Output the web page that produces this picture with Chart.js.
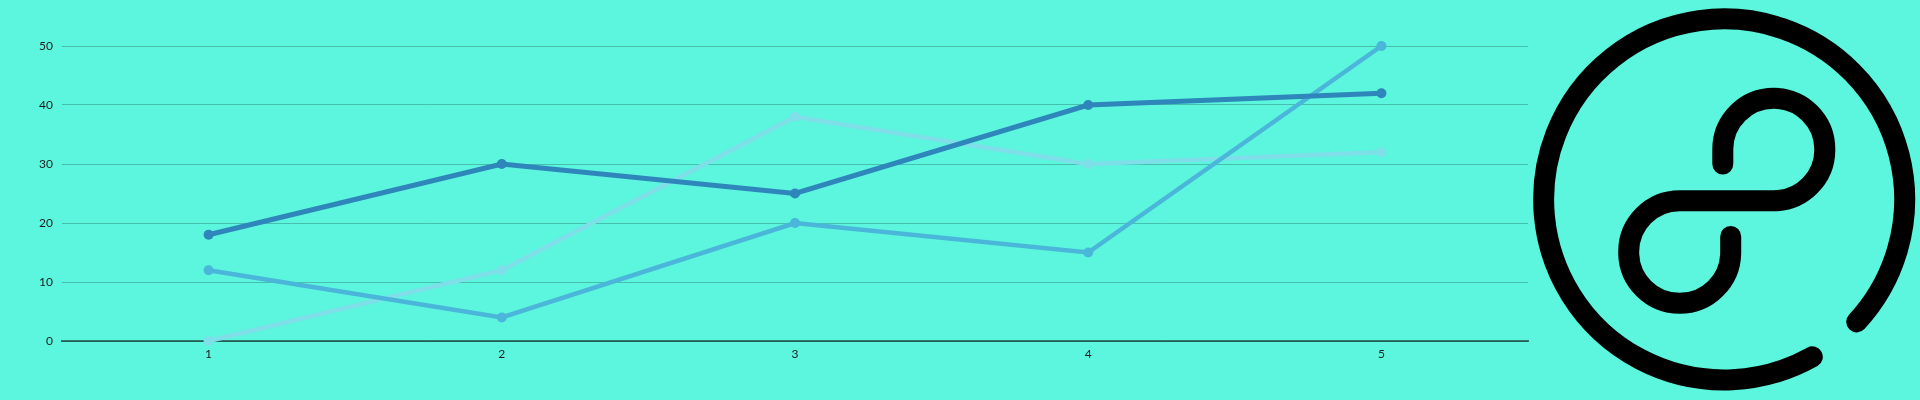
<!DOCTYPE html>
<html>
<head>
<meta charset="utf-8">
<script src="https://cdn.jsdelivr.net/npm/chart.js@4/dist/chart.umd.min.js"></script>
<style>
  html, body { margin: 0; padding: 0; background: #5cf5de; }
  #wrap { position: relative; width: 1920px; height: 400px; overflow: hidden; }
  /* chart.js keeps ~5px on the right, so the box runs a bit wider than the plot */
  #chartBox { position: absolute; left: 0; top: 0; width: 1533px; height: 400px; }
  #logo { position: absolute; left: 0; top: 0; }
</style>
</head>
<body>
<div id="wrap">
  <div id="chartBox"><canvas id="myChart"></canvas></div>
  <svg id="logo" width="1920" height="400" viewBox="0 0 1920 400">
    <g fill="none" stroke="#000" stroke-width="21" stroke-linecap="round">
      <path d="M1812.3 356.9 A180.5 180.5 0 1 1 1856.7 321.9" />
      <path d="M1722.8 164 L1722.8 149.3 A51 51 0 0 1 1824.8 149.3 A51 51 0 0 1 1773.8 200.8 L1679.7 200.8 A51 51 0 0 0 1628.7 252.3 A51 51 0 0 0 1730.7 252.3 L1730.7 236.5" />
    </g>
  </svg>
</div>
<script>
const categories = ['1', '2', '3', '4', '5']
const seriesDark = [18, 30, 25, 40, 42]
const seriesMid = [12, 4, 20, 15, 50]
const seriesLight = [0, 12, 38, 30, 32]
const yTicks = [0, 10, 20, 30, 40, 50]

window.addEventListener('DOMContentLoaded', () => {
  const line = (data, color, width) => ({
    data,
    borderColor: color,
    backgroundColor: color,
    pointBackgroundColor: color,
    pointBorderWidth: 0,
    pointRadius: 5,
    borderWidth: width,
    fill: false,
    tension: 0,
    clip: false,
  })

  new Chart('myChart', {
    type: 'line',
    data: {
      labels: categories,
      datasets: [
        line(seriesDark, '#2e86bb', 5),
        line(seriesMid, '#4ab6da', 4.5),
        line(seriesLight, '#7edfe9', 4.5),
      ],
    },
    options: {
      responsive: true,
      maintainAspectRatio: false,
      animation: false,
      layout: {padding: {top: 46, left: 0, right: 0, bottom: 0}},
      plugins: {legend: {display: false}, tooltip: {enabled: false}},
      scales: {
        x: {
          offset: true,
          grid: {display: false, drawTicks: false},
          border: {display: true, color: 'rgba(0,0,0,0.5)', width: 2},
          ticks: {padding: 6, color: '#1e1e1e', font: {family: 'Lato', size: 12}},
          afterFit: scale => { scale.height = 59 },
        },
        y: {
          min: yTicks[0],
          max: yTicks[yTicks.length - 1],
          afterBuildTicks: scale => { scale.ticks = yTicks.map(v => ({value: v})) },
          grid: {color: 'rgba(0,0,0,0.22)', drawTicks: false, lineWidth: 1},
          border: {display: false},
          ticks: {padding: 9, color: '#1e1e1e', font: {family: 'Lato', size: 12}},
          afterFit: scale => { scale.width = 62 },
        },
      },
    },
  })
})
</script>
</body>
</html>
